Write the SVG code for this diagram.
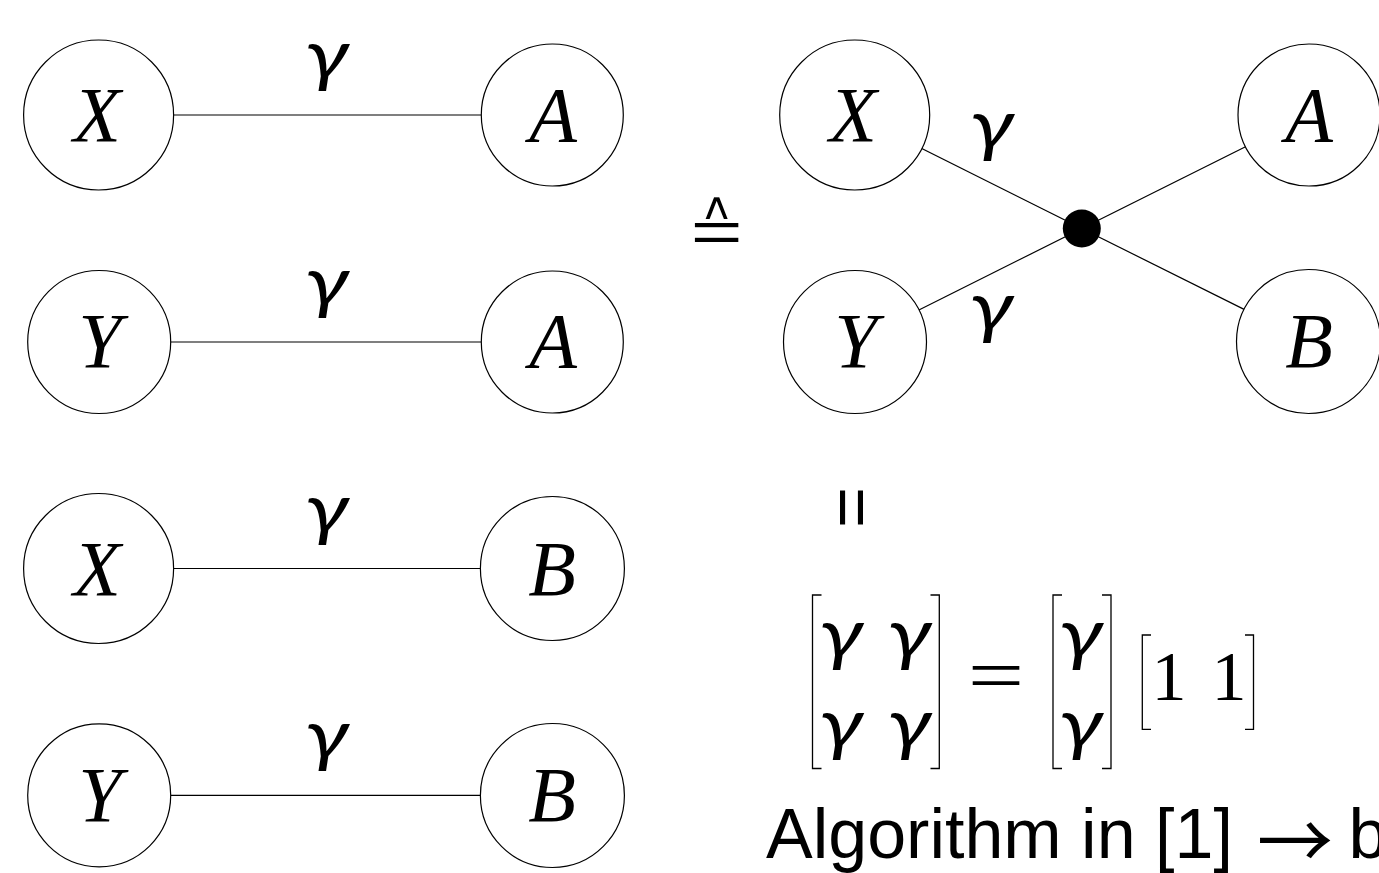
<svg xmlns="http://www.w3.org/2000/svg" width="1379" height="873" viewBox="0 0 1379 873">
<style>
.nd{fill:#fff;stroke:#000;stroke-width:1.2}
.ed{stroke:#000;stroke-width:1.2;fill:none}
.br{stroke:#000;stroke-width:1.3;fill:none}
.m{font-family:"Liberation Serif","Times New Roman",serif;font-style:italic;font-size:78px;fill:#000;text-anchor:middle}
.g{font-family:Lato,"DejaVu Serif",serif;font-style:italic;font-weight:400;font-size:70px;fill:#000;text-anchor:middle}
.r{font-family:"Liberation Serif","Times New Roman",serif;font-size:70px;fill:#000;text-anchor:middle}
.s{font-family:"Liberation Sans",Arial,sans-serif;font-size:70px;fill:#000}
</style>
<rect width="1379" height="873" fill="#fff"/>
<g id="connectors">
<line class="ed" x1="173.6" y1="115" x2="481.3" y2="115"/>
<line class="ed" x1="170.7" y1="342" x2="481.3" y2="342"/>
<line class="ed" x1="173.6" y1="568.5" x2="480.4" y2="568.5"/>
<line class="ed" x1="170.7" y1="795.3" x2="480.4" y2="795.3"/>
<line class="ed" x1="921.8" y1="148.5" x2="1081.8" y2="228.5"/>
<line class="ed" x1="1245.5" y1="146.7" x2="1081.8" y2="228.5"/>
<line class="ed" x1="918.9" y1="310" x2="1081.8" y2="228.5"/>
<line class="ed" x1="1244.1" y1="309.4" x2="1081.8" y2="228.5"/>
<text class="g" transform="translate(327,79) scale(1.25,1)">γ</text>
<text class="g" transform="translate(327,306) scale(1.25,1)">γ</text>
<text class="g" transform="translate(327,533) scale(1.25,1)">γ</text>
<text class="g" transform="translate(327,759) scale(1.25,1)">γ</text>
<text class="g" transform="translate(992,149) scale(1.25,1)">γ</text>
<text class="g" transform="translate(991.5,331) scale(1.25,1)">γ</text>
</g>
<g id="l1X"><circle class="nd" cx="98.6" cy="115" r="75"/><text class="m" x="97" y="141">X</text></g>
<g id="l1A"><circle class="nd" cx="552.3" cy="115" r="71"/><text class="m" x="553" y="141">A</text></g>
<g id="l2Y"><circle class="nd" cx="99.2" cy="342" r="71.5"/><text class="m" x="100" y="367">Y</text></g>
<g id="l2A"><circle class="nd" cx="552.3" cy="342" r="71"/><text class="m" x="553" y="367">A</text></g>
<g id="l3X"><circle class="nd" cx="98.6" cy="568.5" r="75"/><text class="m" x="97" y="595">X</text></g>
<g id="l3B"><circle class="nd" cx="552.4" cy="568.5" r="72"/><text class="m" x="552" y="595">B</text></g>
<g id="l4Y"><circle class="nd" cx="99.2" cy="795.3" r="71.5"/><text class="m" x="100" y="821">Y</text></g>
<g id="l4B"><circle class="nd" cx="552.4" cy="795.5" r="72"/><text class="m" x="552" y="821">B</text></g>
<g id="rX"><circle class="nd" cx="854.7" cy="115" r="75"/><text class="m" x="853" y="141">X</text></g>
<g id="rA"><circle class="nd" cx="1309" cy="115" r="71"/><text class="m" x="1309" y="141">A</text></g>
<g id="rY"><circle class="nd" cx="855" cy="342" r="71.5"/><text class="m" x="856" y="367">Y</text></g>
<g id="rB"><circle class="nd" cx="1308.5" cy="341.5" r="72"/><text class="m" x="1309" y="367">B</text></g>
<g id="dot"><circle cx="1081.8" cy="228.5" r="19" fill="#000"/></g>
<g id="symbols">
<text x="716.5" y="255" font-family="DejaVu Sans, sans-serif" font-size="72" text-anchor="middle" stroke="#fff" stroke-width="1.6">≙</text>
<text transform="translate(854.5,507.5) rotate(90)" x="0" y="27" font-family="Liberation Sans, Arial, sans-serif" font-size="70" text-anchor="middle">=</text>
</g>
<g id="equation">
<polyline class="br" points="821.5,595 812.5,595 812.5,768.5 821.5,768.5"/>
<polyline class="br" points="930.5,595 939.3,595 939.3,768.5 930.5,768.5"/>
<polyline class="br" points="1062,595 1053,595 1053,768.5 1062,768.5"/>
<polyline class="br" points="1102,595 1111,595 1111,768.5 1102,768.5"/>
<polyline class="br" points="1151,635 1142.3,635 1142.3,729.3 1151,729.3"/>
<polyline class="br" points="1245,635 1253.5,635 1253.5,729.3 1245,729.3"/>
<text class="g" transform="translate(841.4,658) scale(1.25,1)">γ</text>
<text class="g" transform="translate(909.5,658) scale(1.25,1)">γ</text>
<text class="g" transform="translate(841.4,748) scale(1.25,1)">γ</text>
<text class="g" transform="translate(909.5,748) scale(1.25,1)">γ</text>
<text class="g" transform="translate(1081,658) scale(1.25,1)">γ</text>
<text class="g" transform="translate(1081,748) scale(1.25,1)">γ</text>
<text transform="translate(996,701) scale(1.3,1)" x="0" y="0" font-family="Liberation Serif, serif" font-size="77" text-anchor="middle">=</text>
<text class="r" x="1169" y="700">1</text>
<text class="r" x="1229" y="700">1</text>
</g>
<g id="caption">
<text class="s" x="766" y="858">Algorithm in [1] <tspan x="1257" y="869" font-family="Noto Sans CJK JP, sans-serif" font-size="76">→</tspan><tspan x="1329" y="858"> b</tspan></text>
</g>
</svg>
